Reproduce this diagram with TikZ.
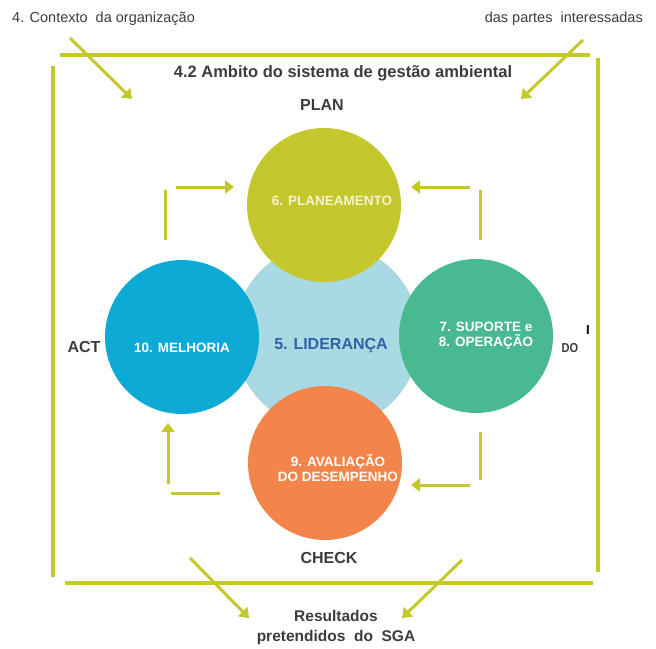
\documentclass[tikz,border=0pt]{standalone}
\usepackage{fontspec}
\setmainfont{Liberation Sans}
\newfontfamily\narrowfont[FakeStretch=0.85]{Liberation Sans}
\usetikzlibrary{arrows.meta}
\usetikzlibrary{positioning}

\definecolor{olivebar}{HTML}{C5C82C}
\definecolor{leadblue}{HTML}{A9D9E3}
\definecolor{actblue}{HTML}{0EAAD6}
\definecolor{dogreen}{HTML}{48B990}
\definecolor{checkorange}{HTML}{F4854A}
\definecolor{plantext}{HTML}{F4F2CF}
\definecolor{darktext}{HTML}{3C3C3C}
\definecolor{leadtext}{HTML}{2F62A6}

\tikzset{
  phase/.style={circle, minimum size=154pt, inner sep=0pt},
  phasetext/.style={align=center, text=white, inner sep=0pt, font=\bfseries\fontsize{13.5}{15}\selectfont},
  cyclename/.style={text=darktext, inner sep=0pt, font=\bfseries\fontsize{16}{18}\selectfont},
  outside/.style={text=darktext, inner sep=0pt, font=\fontsize{14.5}{17}\selectfont},
  framebar/.style={line width=4pt, draw=olivebar},
  stub/.style={line width=3pt, draw=olivebar},
  flow/.style={line width=3pt, draw=olivebar, -{Triangle[length=9pt,width=13pt]}},
}

\begin{document}
\begin{tikzpicture}[x=1pt,y=-1pt]
\useasboundingbox (0,0) rectangle (656,648);

% frame
\draw[framebar] (60,55) -- (590,55);
\draw[framebar] (598,58) -- (598,572);
\draw[framebar] (65,583) -- (593,583);
\draw[framebar] (53,66) -- (53,577);

\node[cyclename, font=\bfseries\fontsize{16.5}{18}\selectfont] (scope) at (343,73) {4.2 Ambito do sistema de gestão ambiental};

% circles
\node[phase, minimum size=186pt, fill=leadblue] (lead) at (327,336) {};
\node[phase, fill=olivebar] (plan) at (324,205) {};
\node[phase, fill=actblue] (act) at (182,337) {};
\node[phase, fill=dogreen] (do) at (476,336) {};
\node[phase, fill=checkorange] (check) at (325,463) {};

\node[text=leadtext, font=\bfseries\fontsize{16}{18}\selectfont] (leadtxt) at (331,346) {5. LIDERANÇA};
\node[phasetext, text=plantext] (plantxt) at (332,201) {6. PLANEAMENTO};
\node[phasetext] (acttxt) at (182,348) {10. MELHORIA};
\node[phasetext] (dotxt) at (486,336) {7. SUPORTE e\\8. OPERAÇÃO};
\node[phasetext] (checktxt) at (338,468) {9. AVALIAÇÃO\\DO DESEMPENHO};

% cycle names
\node[cyclename] (plantag) at (322,105) {PLAN};
\node[cyclename] (acttag) at (84,347) {ACT};
\node[outside, font=\narrowfont\bfseries\fontsize{13}{15}\selectfont] (dotag) at (570,348) {DO};
\node[inner sep=0pt, font=\bfseries\fontsize{13}{13}\selectfont] (mark) at (588,330) {I};
\node[cyclename] (checktag) at (329,558) {CHECK};

% arrows between phases
\coordinate (al1) at (165,240);
\coordinate (al2) at (165,190);
\coordinate (al3) at (176,187);
\coordinate (al4) at (234,187);
\draw[stub] (al1) -- (al2);
\draw[flow] (al3) -- (al4);

\coordinate (ar1) at (480,240);
\coordinate (ar2) at (480,190);
\coordinate (ar3) at (470,187);
\coordinate (ar4) at (411,187);
\draw[stub] (ar1) -- (ar2);
\draw[flow] (ar3) -- (ar4);

\coordinate (br1) at (480,432);
\coordinate (br2) at (480,480);
\coordinate (br3) at (470,485);
\coordinate (br4) at (411,485);
\draw[stub] (br1) -- (br2);
\draw[flow] (br3) -- (br4);

\coordinate (bl1) at (220,493);
\coordinate (bl2) at (171,493);
\coordinate (bl3) at (168,484);
\coordinate (bl4) at (168,423);
\draw[stub] (bl1) -- (bl2);
\draw[flow] (bl3) -- (bl4);

%input
\node[outside, anchor=west] (context) at (12,19) {4. Contexto\ \ da organização};
\node[outside, anchor=east] (parties) at (643,19) {das partes\ \ interessadas};
\coordinate (inl1) at (70,38);
\coordinate (inl2) at (132,99);
\coordinate (inr1) at (583,40);
\coordinate (inr2) at (521,99);
\draw[flow] (inl1) -- (inl2);
\draw[flow] (inr1) -- (inr2);

%output
\node[cyclename, align=center, font=\bfseries\fontsize{15.5}{20}\selectfont] (results) at (336,627) {Resultados\\pretendidos\ \ do\ \ SGA};
\coordinate (outl1) at (190,558);
\coordinate (outl2) at (249,618);
\coordinate (outr1) at (462,560);
\coordinate (outr2) at (402,618);
\draw[flow] (outl1) -- (outl2);
\draw[flow] (outr1) -- (outr2);

\end{tikzpicture}
\end{document}
